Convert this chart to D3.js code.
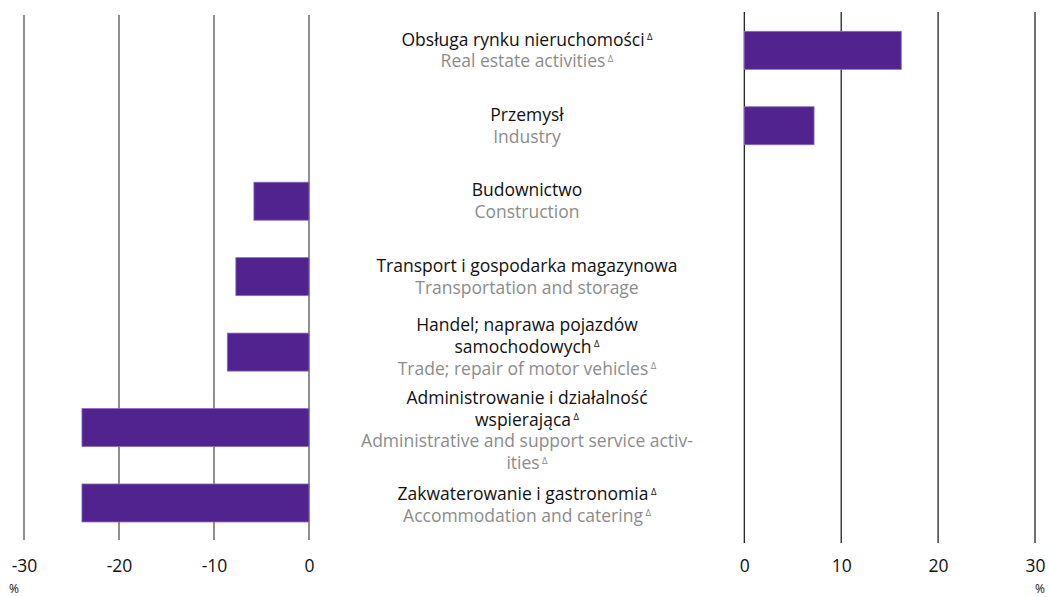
<!DOCTYPE html>
<html><head><meta charset="utf-8">
<script src="https://cdn.jsdelivr.net/npm/d3@7"></script>
<style>body{margin:0;background:#fff}svg{display:block}text{font-family:"Open Sans","Noto Sans",sans-serif}</style>
</head><body><svg id="c" width="1049" height="597"></svg>
<script>
const categoriesPL = [
  ["Obsługa rynku nieruchomości"],
  ["Przemysł"],
  ["Budownictwo"],
  ["Transport i gospodarka magazynowa"],
  ["Handel; naprawa pojazdów", "samochodowych"],
  ["Administrowanie i działalność", "wspierająca"],
  ["Zakwaterowanie i gastronomia"]
];
const categoriesEN = [
  ["Real estate activities"],
  ["Industry"],
  ["Construction"],
  ["Transportation and storage"],
  ["Trade; repair of motor vehicles"],
  ["Administrative and support service activ-", "ities"],
  ["Accommodation and catering"]
];
const flagged = [true, false, false, false, true, true, true];
const values = [16.2, 7.2, -5.8, -7.7, -8.6, -23.9, -23.9];
const leftTicks = [-30, -20, -10, 0];
const rightTicks = [0, 10, 20, 30];
const unitLabel = "%";

const svg = d3.select("#c");
const keys = d3.range(values.length);
const y = d3.scaleBand().domain(keys).range([12.6, 540.7]).paddingInner(0.496).paddingOuter(0.248);
const xL = d3.scaleLinear().domain([-30, 0]).range([24, 309]);
const xR = d3.scaleLinear().domain([0, 30]).range([744.3, 1035]);

// grid lines
svg.append("g").selectAll("line").data(leftTicks).join("line")
  .attr("x1", d => xL(d)).attr("x2", d => xL(d)).attr("y1", 15).attr("y2", 540)
  .attr("stroke", "#444").attr("stroke-width", 1.2);
svg.append("g").selectAll("line").data(rightTicks).join("line")
  .attr("x1", d => xR(d)).attr("x2", d => xR(d)).attr("y1", 12).attr("y2", 543)
  .attr("stroke", "#111").attr("stroke-width", 1.2);

// axes
const axL = svg.append("g").attr("transform", "translate(0,560)")
  .call(d3.axisBottom(xL).tickValues(leftTicks).tickSize(0).tickPadding(0).tickFormat(d => d === 0 ? "0" : "-" + Math.abs(d)));
const axR = svg.append("g").attr("transform", "translate(0,560)")
  .call(d3.axisBottom(xR).tickValues(rightTicks).tickSize(0).tickPadding(0).tickFormat(d3.format("d")));
[axL, axR].forEach(a => {
  a.select(".domain").remove();
  a.selectAll("text").attr("font-size", 17.5).attr("fill", "#111").attr("dy", "0.71em")
    .style("font-family", '"Open Sans","Noto Sans",sans-serif');
});
svg.append("text").attr("x", 14).attr("y", 593).attr("text-anchor", "middle").attr("font-size", 12).attr("fill", "#111").text(unitLabel);
svg.append("text").attr("x", 1040).attr("y", 593).attr("text-anchor", "middle").attr("font-size", 12).attr("fill", "#111").text(unitLabel);

// bars
const fill = "#51238F", stroke = "#8a6cc0";
svg.append("g").selectAll("rect").data(keys.filter(i => values[i] < 0)).join("rect")
  .attr("x", i => xL(values[i])).attr("width", i => xL(0) - xL(values[i]))
  .attr("y", i => y(i)).attr("height", y.bandwidth())
  .attr("fill", fill).attr("stroke", stroke).attr("stroke-width", 0.8);
svg.append("g").selectAll("rect").data(keys.filter(i => values[i] >= 0)).join("rect")
  .attr("x", xR(0)).attr("width", i => xR(values[i]) - xR(0))
  .attr("y", i => y(i)).attr("height", y.bandwidth())
  .attr("fill", fill).attr("stroke", stroke).attr("stroke-width", 0.8);

// labels: centered blocks, then pushed apart if too close
const cx = 527, lh = 21.8, minGap = 31;
const blocks = keys.map(i => {
  const lines = categoriesPL[i].map(t => ({t, c: "#111", pl: true})).concat(categoriesEN[i].map(t => ({t, c: "#8c8c8c", pl: false})));
  const n = lines.length;
  const yc = y(i) + y.bandwidth() / 2;
  return {i, lines, first: yc - (n - 1) * lh / 2, last: yc + (n - 1) * lh / 2};
});
for (let k = 0; k < blocks.length - 1; k++) {
  const a = blocks[k], b = blocks[k + 1];
  const gap = b.first - a.last;
  if (gap < minGap) {
    const s = (minGap - gap) / 2;
    a.first -= s; a.last -= s; b.first += s; b.last += s;
  }
}
const labelG = svg.append("g");
blocks.forEach(bl => {
  const i = bl.i, plN = categoriesPL[i].length, n = bl.lines.length;
  bl.lines.forEach((ln, k) => {
    const txt = labelG.append("text").attr("x", cx).attr("y", bl.first + k * lh).attr("dy", "0.35em")
      .attr("text-anchor", "middle").attr("font-size", 17.5).attr("fill", ln.c);
    txt.append("tspan").text(ln.t);
    const lastOfGroup = (k === plN - 1) || (k === n - 1);
    if (flagged[i] && lastOfGroup) {
      txt.append("tspan").attr("font-size", 9.5).attr("dy", "-0.6em").text(" Δ");
    }
  });
});
</script></body></html>
